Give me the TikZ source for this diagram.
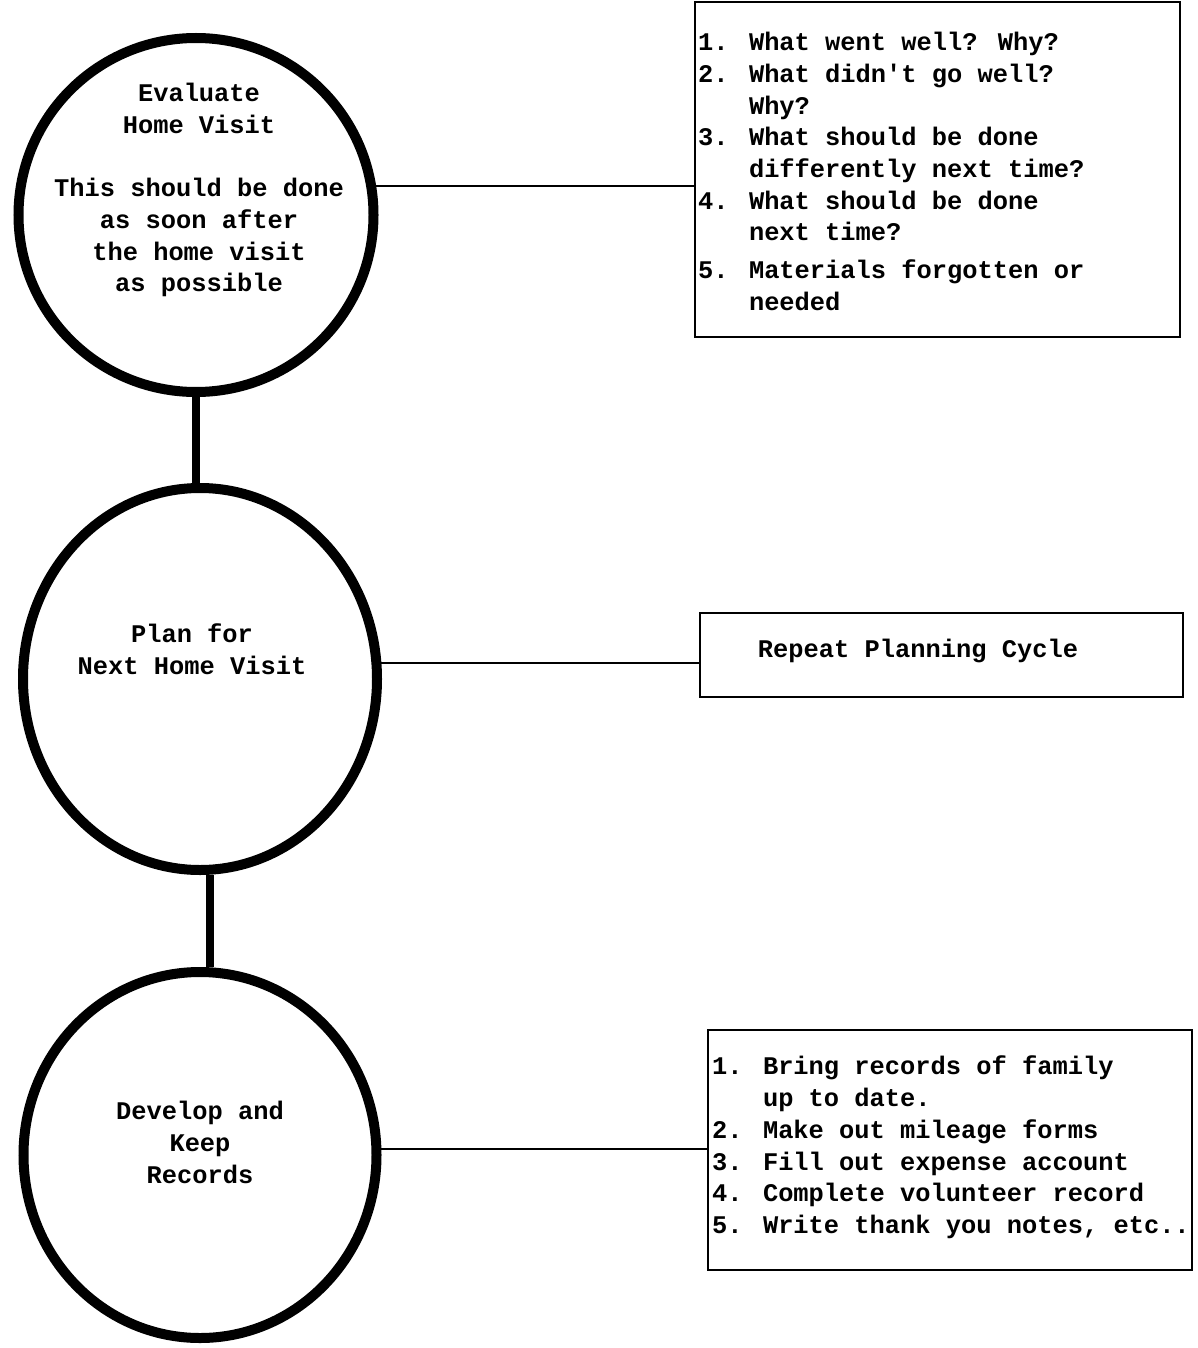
\documentclass[tikz,border=0pt]{standalone}
\usepackage{fontspec}
\newfontfamily\typewriter{Liberation Mono}
\usetikzlibrary{shapes.geometric}
\begin{document}
\begin{tikzpicture}[x=1pt,y=-1pt,
  stage/.style={ellipse,draw,line width=10pt,inner sep=0pt},
  notebox/.style={rectangle,draw,line width=2.5pt,inner sep=0pt},
  link/.style={line width=8pt},
  tie/.style={line width=2pt},
  tw/.style={font=\typewriter\bfseries\fontsize{25.4}{31.7}\selectfont,inner sep=0pt},
]
\fill[white] (0,0) rectangle (1197,1348);
\useasboundingbox (0,0) rectangle (1197,1348);

% the three stages
\node[stage,minimum width=355pt,minimum height=354pt] (c1) at (196,215) {};
\node[stage,minimum width=354pt,minimum height=382pt] (c2) at (200,679) {};
\node[stage,minimum width=353pt,minimum height=366pt] (c3) at (200,1155) {};

\node[tw,align=center,anchor=north] (t1) at (199,83)
  {Evaluate\\Home Visit\\[31.7pt]This should be done\\as soon after\\the home visit\\as possible};
\node[tw,align=center,anchor=north] (t2) at (192,624)
  {Plan for\\Next Home Visit};
\node[tw,align=center,anchor=north] (t3) at (200,1101)
  {Develop and\\Keep\\Records};

% the note boxes
\node[notebox,minimum width=485pt,minimum height=335pt] (b1) at (937.5,169.5) {};
\node[notebox,minimum width=483pt,minimum height=84pt] (b2) at (941.5,655) {};
\node[notebox,minimum width=484pt,minimum height=240pt] (b3) at (950,1150) {};

\node[tw,align=left,anchor=north west] (n1) at (698,32)
  {1. What went well? Why?\\
   2. What didn't go well?\\
   \hphantom{1. }Why?\\
   3. What should be done\\
   \hphantom{1. }differently next time?\\
   4. What should be done\\
   \hphantom{1. }next time?\\[6pt]
   5. Materials forgotten or\\
   \hphantom{1. }needed};
\node[tw] (n2) at (918,651) {Repeat Planning Cycle};
\node[tw,align=left,anchor=north west] (n3) at (712,1056)
  {1. Bring records of family\\
   \hphantom{1. }up to date.\\
   2. Make out mileage forms\\
   3. Fill out expense account\\
   4. Complete volunteer record\\
   5. Write thank you notes, etc..};

% connectors
\draw[link] (c1.south) -- (c1.south |- c2.north);
\draw[link] (c2.-87.5) -- (c2.-87.5 |- c3.north);
\draw[tie] (c1.9.5) -- (c1.9.5 -| b1.west);
\draw[tie] (c2.5.8) -- (c2.5.8 -| b2.west);
\draw[tie] (c3.2.6) -- (c3.2.6 -| b3.west);
\end{tikzpicture}
\end{document}
